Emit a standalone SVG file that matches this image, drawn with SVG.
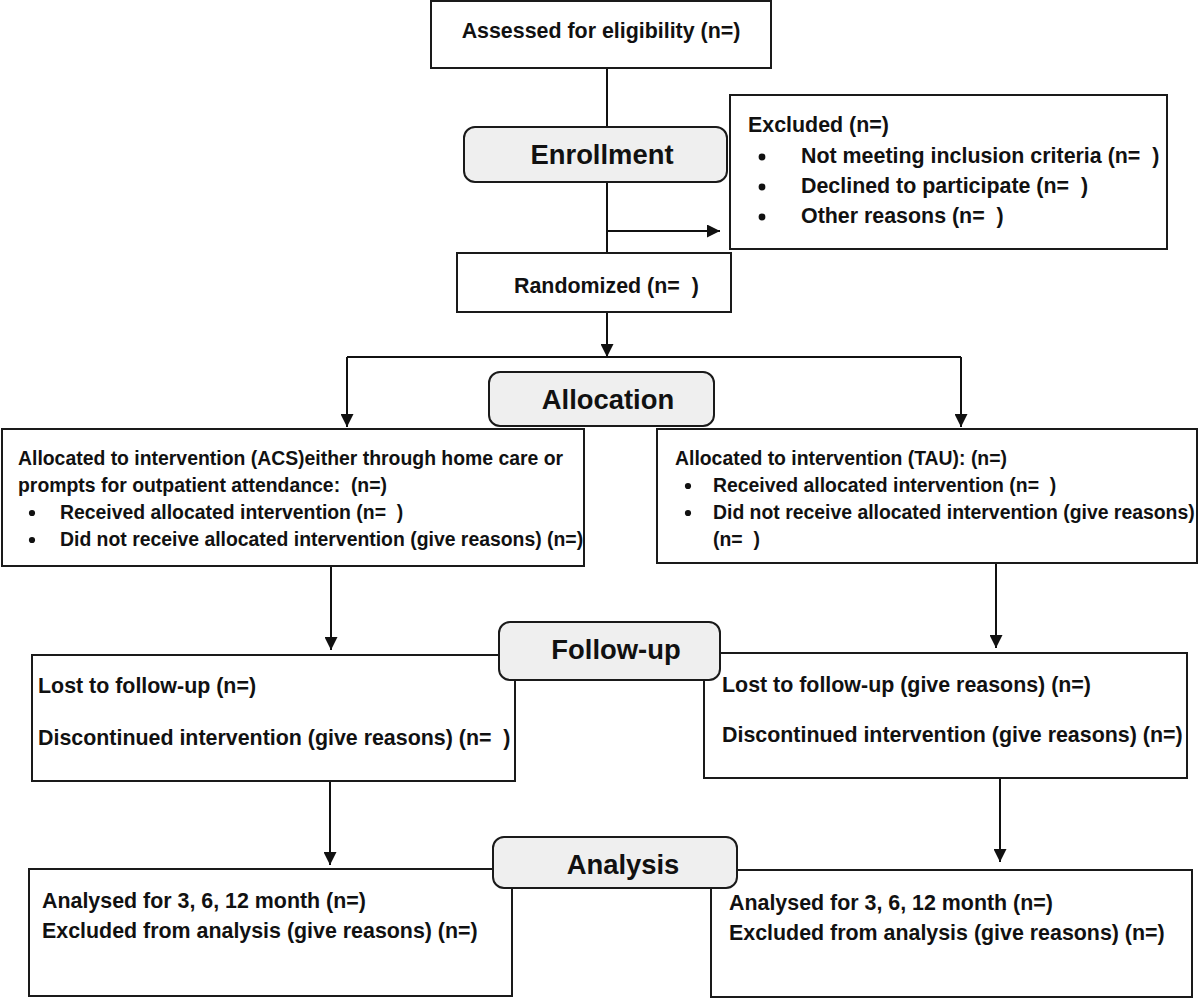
<svg xmlns="http://www.w3.org/2000/svg" width="1200" height="998" viewBox="0 0 1200 998" xml:space="preserve">
<style>
.box{fill:#fff;stroke:#1a1a1a;stroke-width:2}
.hdr{fill:#efefef;stroke:#1a1a1a;stroke-width:2}
.ln{fill:none;stroke:#111;stroke-width:2}
text{font-family:"Liberation Sans",Arial,Helvetica,sans-serif;font-weight:bold;fill:#111;white-space:pre}
.t{font-size:21.4px}
.s{font-size:19.4px}
.h{font-size:27.4px;text-anchor:middle}
</style>
<defs>
<marker id="ah" markerUnits="userSpaceOnUse" markerWidth="13" markerHeight="13" refX="13" refY="6.5" orient="auto">
<path d="M0,0 L13,6.5 L0,13 z" fill="#111"/>
</marker>
</defs>
<rect width="1200" height="998" fill="#fff"/>
<g id="connectors">
<path class="ln" d="M607,68 V253"/>
<path class="ln" d="M608,231 H720" marker-end="url(#ah)"/>
<path class="ln" d="M607,312 V357" marker-end="url(#ah)"/>
<path class="ln" d="M347,357 H961"/>
<path class="ln" d="M347,357 V427" marker-end="url(#ah)"/>
<path class="ln" d="M961,357 V427" marker-end="url(#ah)"/>
<path class="ln" d="M331,566 V650" marker-end="url(#ah)"/>
<path class="ln" d="M996,563 V648" marker-end="url(#ah)"/>
<path class="ln" d="M330,782 V865" marker-end="url(#ah)"/>
<path class="ln" d="M1000,778 V862" marker-end="url(#ah)"/>
</g>
<g id="assessed">
<rect class="box" x="431" y="1" width="340" height="67"/>
<text class="t" x="601" y="38" text-anchor="middle">Assessed for eligibility (n=)</text>
</g>
<g id="enrollment">
<rect class="hdr" x="464" y="127" width="263" height="55" rx="11"/>
<text class="h" x="602" y="164">Enrollment</text>
</g>
<g id="excluded">
<rect class="box" x="730" y="95" width="437" height="154"/>
<text class="t" x="748" y="132">Excluded (n=)</text>
<circle cx="762" cy="157" r="3.4" fill="#111"/>
<text class="t" x="801" y="163">Not meeting inclusion criteria (n=  )</text>
<circle cx="762" cy="187" r="3.4" fill="#111"/>
<text class="t" x="801" y="193">Declined to participate (n=  )</text>
<circle cx="762" cy="217" r="3.4" fill="#111"/>
<text class="t" x="801" y="223">Other reasons (n=  )</text>
</g>
<g id="randomized">
<rect class="box" x="457" y="253" width="274" height="59"/>
<text class="t" x="514" y="293">Randomized (n=  )</text>
</g>
<g id="allocation">
<rect class="hdr" x="489" y="372" width="225" height="54" rx="11"/>
<text class="h" x="608" y="409">Allocation</text>
</g>
<g id="alloc-acs">
<rect class="box" x="2" y="429" width="582" height="137"/>
<text class="s" x="18" y="465">Allocated to intervention (ACS)either through home care or</text>
<text class="s" x="18" y="492">prompts for outpatient attendance:  (n=)</text>
<circle cx="32" cy="513" r="3.1" fill="#111"/>
<text class="s" x="60" y="519">Received allocated intervention (n=  )</text>
<circle cx="32" cy="540" r="3.1" fill="#111"/>
<text class="s" x="60" y="546">Did not receive allocated intervention (give reasons) (n=)</text>
</g>
<g id="alloc-tau">
<rect class="box" x="657" y="429" width="540" height="134"/>
<text class="s" x="675" y="465">Allocated to intervention (TAU): (n=)</text>
<circle cx="688" cy="486" r="3.1" fill="#111"/>
<text class="s" x="713" y="492">Received allocated intervention (n=  )</text>
<circle cx="688" cy="513" r="3.1" fill="#111"/>
<text class="s" x="713" y="519">Did not receive allocated intervention (give reasons)</text>
<text class="s" x="713" y="546">(n=  )</text>
</g>
<g id="followup-left">
<rect class="box" x="32" y="655" width="483" height="126"/>
<text class="t" x="38" y="693">Lost to follow-up (n=)</text>
<text class="t" x="38" y="745">Discontinued intervention (give reasons) (n=  )</text>
</g>
<g id="followup-right">
<rect class="box" x="704" y="653" width="483" height="125"/>
<text class="t" x="722" y="692">Lost to follow-up (give reasons) (n=)</text>
<text class="t" x="722" y="742">Discontinued intervention (give reasons) (n=)</text>
</g>
<g id="followup">
<rect class="hdr" x="499" y="622" width="221" height="58" rx="11"/>
<text class="h" x="616" y="659">Follow-up</text>
</g>
<g id="analysis-left">
<rect class="box" x="29" y="869" width="483" height="127"/>
<text class="t" x="42" y="908">Analysed for 3, 6, 12 month (n=)</text>
<text class="t" x="42" y="938">Excluded from analysis (give reasons) (n=)</text>
</g>
<g id="analysis-right">
<rect class="box" x="711" y="870" width="481" height="127"/>
<text class="t" x="729" y="910">Analysed for 3, 6, 12 month (n=)</text>
<text class="t" x="729" y="940">Excluded from analysis (give reasons) (n=)</text>
</g>
<g id="analysis">
<rect class="hdr" x="493" y="837" width="244" height="51" rx="11"/>
<text class="h" x="623" y="874">Analysis</text>
</g>
</svg>
